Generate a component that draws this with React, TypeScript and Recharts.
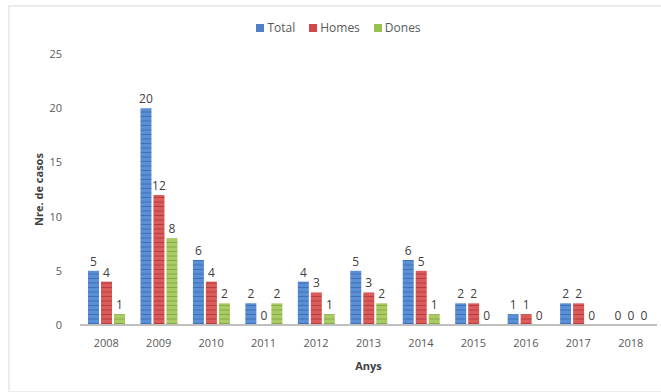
import { BarChart, Bar, XAxis, YAxis, Legend, LabelList } from "recharts";

const years = ["2008", "2009", "2010", "2011", "2012", "2013", "2014", "2015", "2016", "2017", "2018"];
const total = [5, 20, 6, 2, 4, 5, 6, 2, 1, 2, 0];
const homes = [4, 12, 4, 0, 3, 3, 5, 2, 1, 2, 0];
const dones = [1, 8, 2, 2, 1, 2, 1, 0, 0, 0, 0];
const yTicks = [0, 5, 10, 15, 20, 25];

const data = years.map((year, i) => ({
  year,
  Total: total[i],
  Homes: homes[i],
  Dones: dones[i],
}));

const series = [
  { key: "Total", base: "#5b8fd6", stripe: "#3f6fb5", swatch: "#4f81c7" },
  { key: "Homes", base: "#dc5c5c", stripe: "#b53c3c", swatch: "#d04848" },
  { key: "Dones", base: "#a9cc63", stripe: "#86a845", swatch: "#9bc151" },
];

const font = "'Open Sans', 'Liberation Sans', sans-serif";

const LegendContent = () => (
  <div style={{ display: "flex", justifyContent: "center", gap: 14, fontFamily: font, fontSize: 12, color: "#595959" }}>
    {series.map((s) => (
      <span key={s.key} style={{ display: "flex", alignItems: "center" }}>
        <span style={{ display: "inline-block", width: 8, height: 8, background: s.swatch, marginRight: 3 }} />
        {s.key}
      </span>
    ))}
  </div>
);

// value above the bar, zero included
const ValueLabel = (props: any) => {
  const { x, y, width, height, value } = props;
  if (value === undefined || value === null) return null;
  const top = Math.min(y, y + height);
  return (
    <text x={x + width / 2} y={top - 5} textAnchor="middle" fill="#404040" fontSize={12} fontFamily={font}>
      {value}
    </text>
  );
};

export default function App() {
  return (
    <div style={{ position: "absolute", left: 0, top: 0, width: 661, height: 392, background: "#fff" }}>
      <div
        style={{
          position: "absolute",
          left: 8,
          top: 5,
          width: 660,
          height: 384,
          borderLeft: "2px solid #ececec",
          borderTop: "2px solid #ececec",
          borderBottom: "2px solid #ececec",
        }}
      />
      <BarChart
        width={661}
        height={392}
        data={data}
        margin={{ top: 37, right: 4, bottom: 20, left: 20 }}
        barGap={2}
        barSize={11}
      >
        <defs>
          {series.map((s) => (
            <pattern key={s.key} id={`stripe-${s.key}`} patternUnits="userSpaceOnUse" width={4} height={4.5}>
              <rect width={4} height={4.5} fill={s.base} />
              <rect y={3.5} width={4} height={1} fill={s.stripe} />
            </pattern>
          ))}
        </defs>
        <Legend verticalAlign="top" content={<LegendContent />} wrapperStyle={{ top: 19 }} />
        <XAxis
          dataKey="year"
          axisLine={{ stroke: "#bfbfbf", strokeWidth: 2 }}
          tickLine={false}
          tick={{ fill: "#595959", fontSize: 11, fontFamily: font }}
          tickMargin={8}
          height={47}
          label={{ value: "Anys", position: "insideBottom", offset: 2, fill: "#404040", fontSize: 11, fontWeight: 700, fontFamily: font }}
        />
        <YAxis
          domain={[0, 25]}
          ticks={yTicks}
          axisLine={false}
          tickLine={false}
          width={60}
          tick={{ fill: "#595959", fontSize: 11, fontFamily: font }}
          tickMargin={12}
          label={{ value: "Nre. de casos", angle: -90, position: "insideLeft", offset: 19, fill: "#404040", fontSize: 11, fontWeight: 700, fontFamily: font, style: { textAnchor: "middle" } }}
        />
        {series.map((s) => (
          <Bar
            key={s.key}
            dataKey={s.key}
            fill={`url(#stripe-${s.key})`}
            minPointSize={(v: number) => (v === 0 ? 0.01 : 0)}
            isAnimationActive={false}
          >
            <LabelList dataKey={s.key} content={<ValueLabel />} />
          </Bar>
        ))}
      </BarChart>
    </div>
  );
}
